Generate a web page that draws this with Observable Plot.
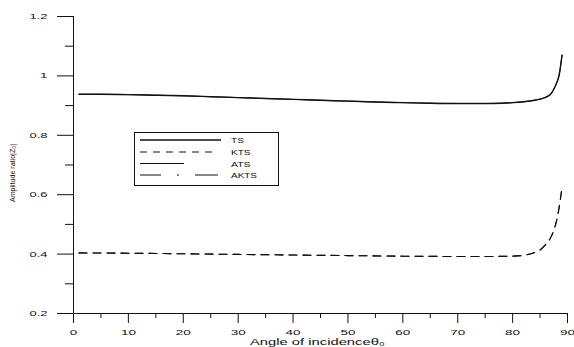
<!DOCTYPE html>
<html><head><meta charset="utf-8">
<script src="https://cdn.jsdelivr.net/npm/d3@7"></script>
<script src="https://cdn.jsdelivr.net/npm/@observablehq/plot@0.6"></script>
<style>
html,body{margin:0;padding:0;background:#fff;}
#chart svg{display:block;}
</style></head><body><div id="chart"></div>
<script>
const tsAngle = [1,5,10,15,20,25,30,35,40,45,50,55,60,65,70,75,78,80,82,84,85,86,87,87.5,88,88.5,89];
const tsRatio = [0.938,0.938,0.937,0.935,0.933,0.930,0.927,0.924,0.921,0.918,0.915,0.912,0.910,0.908,0.907,0.907,0.908,0.910,0.913,0.918,0.922,0.928,0.940,0.955,0.975,1.005,1.070];
const atsRatio = [0.938,0.938,0.937,0.935,0.933,0.930,0.927,0.924,0.921,0.918,0.915,0.912,0.910,0.908,0.907,0.907,0.908,0.910,0.913,0.918,0.922,0.928,0.940,0.955,0.975,1.005,1.070];
const ktsAngle = [1,10,20,30,40,50,60,70,75,80,82,84,85,86,87,87.5,88,88.5,89];
const ktsRatio = [0.404,0.403,0.401,0.399,0.397,0.395,0.393,0.392,0.392,0.393,0.396,0.405,0.414,0.432,0.458,0.480,0.512,0.560,0.625];
const aktsRatio = [0.404,0.403,0.401,0.399,0.397,0.395,0.393,0.392,0.392,0.393,0.396,0.405,0.414,0.432,0.458,0.480,0.512,0.560,0.625];
const xMajorTicks = [0,10,20,30,40,50,60,70,80,90];
const xMinorTicks = [5,15,25,35,45,55,65,75,85];
const yMajorTicks = [0.2,0.4,0.6,0.8,1,1.2];
const yMinorTicks = [0.3,0.5,0.7,0.9,1.1];
const seriesNames = ["TS","KTS","ATS","AKTS"];
const xLabel = "Angle of incidenceθ₀";
const yLabel = "Amplitude ratio|Z₀|";

const ts = tsAngle.map((a,i)=>({a, v: tsRatio[i]}));
const ats = tsAngle.map((a,i)=>({a, v: atsRatio[i]}));
const kts = ktsAngle.map((a,i)=>({a, v: ktsRatio[i]}));
const akts = ktsAngle.map((a,i)=>({a, v: aktsRatio[i]}));

const ink = "#111";
const plot = Plot.plot({
  width: 574, height: 347,
  marginLeft: 73, marginRight: 7, marginTop: 16, marginBottom: 34,
  style: {fontFamily: "Liberation Sans, Arial, sans-serif", fontSize: "7.5px", background: "#fff", color: ink},
  x: {domain: [0, 90]},
  y: {domain: [0.2, 1.2]},
  marks: [
    Plot.axisY(yMajorTicks, {tickSize: 16, tickPadding: 10, tickFormat: d => String(d), label: null, stroke: ink}),
    Plot.axisY(yMinorTicks, {tickSize: 8, tickFormat: () => "", label: null, stroke: ink}),
    Plot.axisX(xMajorTicks, {tickSize: 10, tickPadding: 6, tickFormat: d => String(d), label: null, stroke: ink}),
    Plot.axisX(xMinorTicks, {tickSize: 5, tickFormat: () => "", label: null, stroke: ink}),
    Plot.ruleX([0], {y1: 0.2, y2: 1.2, stroke: ink, strokeWidth: 1}),
    Plot.ruleY([0.2], {x1: 0, x2: 90, stroke: ink, strokeWidth: 1}),
    Plot.line(ats, {x: "a", y: "v", stroke: ink, strokeWidth: 1, curve: "monotone-x"}),
    Plot.line(akts, {x: "a", y: "v", stroke: ink, strokeWidth: 1.1, strokeDasharray: "8,6", curve: "monotone-x"}),
    Plot.line(ts, {x: "a", y: "v", stroke: ink, strokeWidth: 1.4, curve: "monotone-x"}),
    Plot.line(kts, {x: "a", y: "v", stroke: ink, strokeWidth: 1.1, strokeDasharray: "8,6", curve: "monotone-x"})
  ]
});
document.getElementById("chart").appendChild(plot);

const svg = d3.select(plot);
// stretch tick labels horizontally like the reference
svg.selectAll("g[aria-label='y-axis tick label'] text, g[aria-label='x-axis tick label'] text").each(function(){
  const t = this.textContent;
  if (!t) return;
  let len = 0;
  for (const c of t) len += (c === ".") ? 3 : 7.5;
  d3.select(this).attr("textLength", len).attr("lengthAdjust", "spacingAndGlyphs");
});

// legend
const lg = svg.append("g").attr("font-family", "Liberation Sans, Arial, sans-serif").attr("font-size", 8).attr("text-anchor", "start");
lg.append("rect").attr("x", 134.5).attr("y", 132.5).attr("width", 144).attr("height", 53)
  .attr("fill", "#fff").attr("stroke", ink).attr("stroke-width", 1);
const rowsY = [140, 152, 163.5, 175];
const dashes = [null, "7,6", null, "21,16,2,16,23"];
const ends = [221, 218, 184, 218];
const widths = [1.3, 1.1, 1, 1.1];
seriesNames.forEach((name, i) => {
  const ln = lg.append("line").attr("x1", 140).attr("x2", ends[i]).attr("y1", rowsY[i]).attr("y2", rowsY[i])
    .attr("stroke", ink).attr("stroke-width", widths[i]);
  if (dashes[i]) ln.attr("stroke-dasharray", dashes[i]);
  lg.append("text").attr("x", 231).attr("y", rowsY[i] + 3).attr("fill", ink).attr("text-anchor", "start")
    .attr("textLength", name.length * 6.5).attr("lengthAdjust", "spacingAndGlyphs").text(name);
});

// axis titles
svg.append("text").attr("x", 250).attr("y", 345).attr("text-anchor", "start").attr("font-family", "Liberation Sans, Arial, sans-serif")
  .attr("font-size", 8.5).attr("fill", ink).attr("textLength", 135).attr("lengthAdjust", "spacingAndGlyphs").text(xLabel);
svg.append("text").attr("transform", "translate(15,173) rotate(-90)").attr("text-anchor", "middle")
  .attr("font-family", "Liberation Sans, Arial, sans-serif").attr("font-size", 8).attr("fill", ink)
  .attr("textLength", 58).attr("lengthAdjust", "spacingAndGlyphs").text(yLabel);
</script>
</body></html>
